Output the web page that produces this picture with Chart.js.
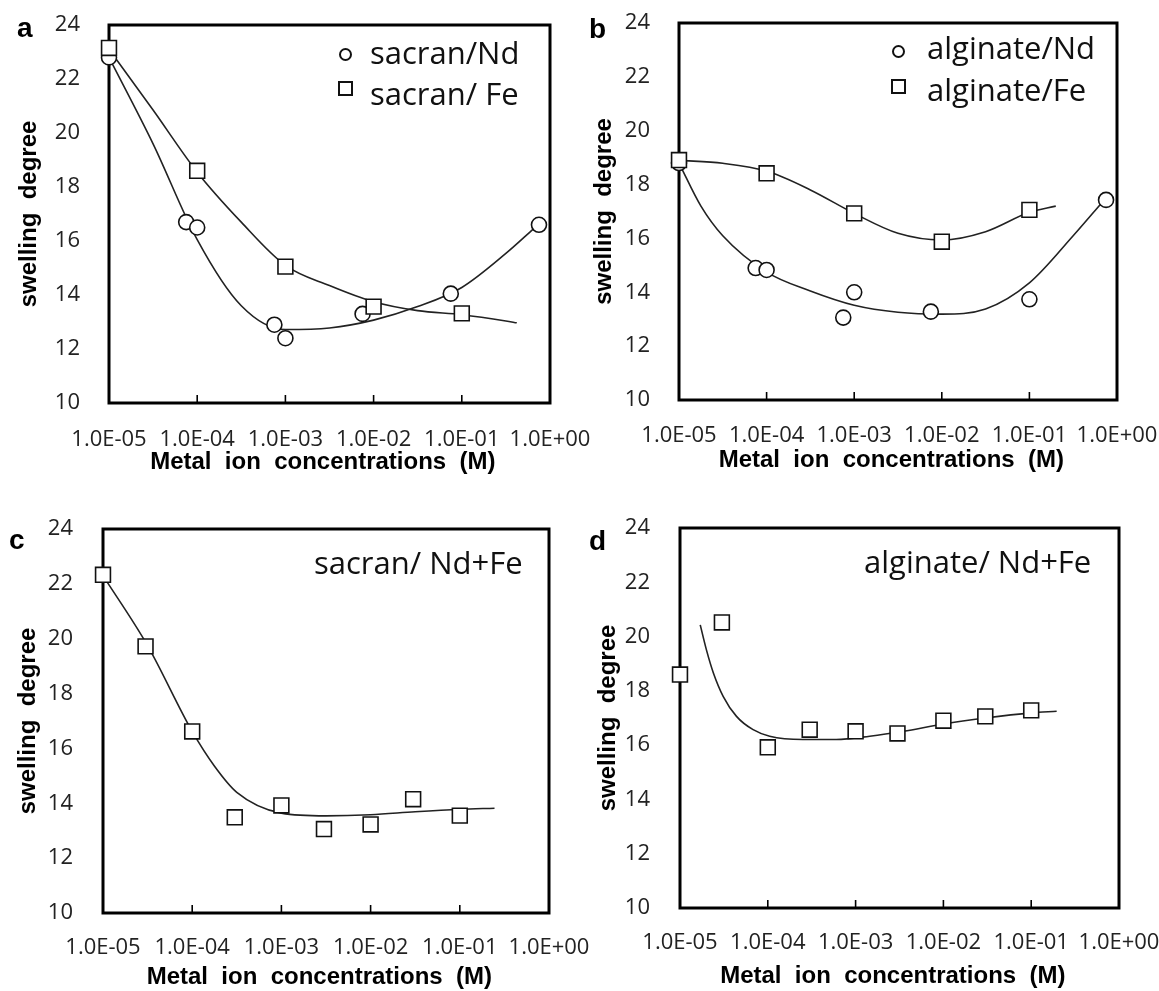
<!DOCTYPE html>
<html>
<head>
<meta charset="utf-8">
<script src="https://cdn.jsdelivr.net/npm/chart.js@4.4.0/dist/chart.umd.min.js"></script>
<style>
html, body { margin: 0; padding: 0; background: #fff; }
#page { position: relative; width: 1159px; height: 991px; overflow: hidden; }
canvas { position: absolute; left: 0; top: 0; }
.lbl { position: absolute; white-space: pre; line-height: 1; }
.panel { font: bold 28px "Liberation Sans", Arial, sans-serif; color: #000; }
.note { font: 31px "Open Sans", sans-serif; color: #111; }
.mk { position: absolute; box-sizing: border-box; border: 2.5px solid #111; background: #fff; }
</style>
</head>
<body>
<div id="page">
  <canvas id="chartA" width="1159" height="991"></canvas>
  <canvas id="chartB" width="1159" height="991"></canvas>
  <canvas id="chartC" width="1159" height="991"></canvas>
  <canvas id="chartD" width="1159" height="991"></canvas>

  <div class="lbl panel" style="left:17px;top:12px">a</div>
  <div class="lbl panel" style="left:589px;top:13px">b</div>
  <div class="lbl panel" style="left:9px;top:524px">c</div>
  <div class="lbl panel" style="left:589px;top:525px">d</div>

  <span class="mk" style="left:339px;top:48px;width:13px;height:13px;border-radius:50%"></span>
  <div class="lbl note" style="left:370px;top:31px">sacran/Nd</div>
  <span class="mk" style="left:338px;top:81px;width:15px;height:15px"></span>
  <div class="lbl note" style="left:370px;top:72px">sacran/ Fe</div>

  <span class="mk" style="left:892px;top:45px;width:13px;height:13px;border-radius:50%"></span>
  <div class="lbl note" style="left:927px;top:26px">alginate/Nd</div>
  <span class="mk" style="left:891px;top:79px;width:15px;height:15px"></span>
  <div class="lbl note" style="left:927px;top:68px">alginate/Fe</div>

  <div class="lbl note" style="left:314px;top:541px">sacran/ Nd+Fe</div>
  <div class="lbl note" style="left:864px;top:540px">alginate/ Nd+Fe</div>
</div>

<script>
// x axis: metal ion concentration (M), log scale
const xTicks = [1e-5, 1e-4, 1e-3, 1e-2, 1e-1, 1];
const xTickLabels = ['1.0E-05', '1.0E-04', '1.0E-03', '1.0E-02', '1.0E-01', '1.0E+00'];
const yMin = 10, yMax = 24, yStep = 2;

// a: sacran
const aNdX = [1e-5, 7.5e-5, 1e-4, 7.5e-4, 1e-3, 7.5e-3, 7.5e-2, 0.75];
const aNdY = [22.8, 16.7, 16.5, 12.9, 12.4, 13.3, 14.05, 16.6];
const aFeX = [1e-5, 1e-4, 1e-3, 1e-2, 1e-1];
const aFeY = [23.15, 18.6, 15.05, 13.57, 13.32];
const aNdFitX = [1e-5, 3.16e-5, 1e-4, 3.16e-4, 1e-3, 3.16e-3, 1e-2, 3.16e-2, 1e-1, 3.16e-1, 0.65];
const aNdFitY = [22.8, 19.6, 16.05, 13.6, 12.72, 12.78, 13.07, 13.57, 14.28, 15.54, 16.45];
const aFeFitX = [1e-5, 3.16e-5, 1e-4, 3.16e-4, 1e-3, 3.16e-3, 1e-2, 3.16e-2, 1e-1, 3.16e-1, 0.42];
const aFeFitY = [23.1, 20.85, 18.55, 16.7, 15.1, 14.35, 13.75, 13.42, 13.27, 13.04, 12.97];

// b: alginate
const bNdX = [1e-5, 7.5e-5, 1e-4, 7.5e-4, 1e-3, 7.5e-3, 1e-1, 0.75];
const bNdY = [18.8, 14.9, 14.83, 13.06, 14.0, 13.28, 13.74, 17.43];
const bFeX = [1e-5, 1e-4, 1e-3, 1e-2, 1e-1];
const bFeY = [18.91, 18.42, 16.93, 15.88, 17.06];
const bNdFitX = [1e-5, 1.78e-5, 3.16e-5, 1e-4, 3.16e-4, 1e-3, 3.16e-3, 1e-2, 3.16e-2, 1e-1, 3.16e-1, 0.66];
const bNdFitY = [18.8, 17.2, 16.1, 14.75, 14.05, 13.52, 13.26, 13.19, 13.38, 14.35, 16.1, 17.3];
const bFeFitX = [1e-5, 3.16e-5, 1e-4, 3.16e-4, 1e-3, 3.16e-3, 1e-2, 3.16e-2, 1e-1, 0.2];
const bFeFitY = [18.9, 18.79, 18.5, 17.8, 16.93, 16.19, 15.94, 16.25, 16.97, 17.2];

// c: sacran / Nd+Fe
const cX = [1e-5, 3e-5, 1e-4, 3e-4, 1e-3, 3e-3, 1e-2, 3e-2, 1e-1];
const cY = [22.33, 19.72, 16.62, 13.49, 13.92, 13.06, 13.23, 14.15, 13.55];
const cFitX = [1e-5, 3.16e-5, 1e-4, 1.78e-4, 3.16e-4, 1e-3, 3.16e-3, 1e-2, 3.16e-2, 1e-1, 0.245];
const cFitY = [22.3, 19.75, 16.62, 15.35, 14.4, 13.64, 13.54, 13.58, 13.69, 13.78, 13.82];

// d: alginate / Nd+Fe
const dX = [1e-5, 3e-5, 1e-4, 3e-4, 1e-3, 3e-3, 1e-2, 3e-2, 1e-1];
const dY = [18.6, 20.52, 15.92, 16.57, 16.51, 16.43, 16.9, 17.06, 17.28];
const dFitX = [1.7e-5, 2e-5, 2.4e-5, 3.1e-5, 4.4e-5, 6.8e-5, 1.05e-4, 2.5e-4, 6e-4, 1.45e-3, 3.5e-3, 1e-2, 3e-2, 1e-1, 0.195];
const dFitY = [20.43, 19.51, 18.66, 17.8, 17.06, 16.57, 16.33, 16.21, 16.21, 16.33, 16.51, 16.78, 17.0, 17.19, 17.25];

const pts = (xs, ys) => xs.map((x, i) => ({ x: x, y: ys[i] }));

function marks(xs, ys, style) {
    return {
        data: pts(xs, ys),
        showLine: false,
        pointStyle: style,
        pointRadius: style === 'rect' ? 10.5 : 7.5,
        pointBorderWidth: 1.6,
        pointBorderColor: '#111',
        pointBackgroundColor: '#fff',
        clip: false
    };
}

function fit(xs, ys) {
    return {
        data: pts(xs, ys),
        showLine: true,
        pointRadius: 0,
        borderColor: '#222',
        borderWidth: 1.6,
        cubicInterpolationMode: 'monotone',
        clip: false
    };
}

// box frame + small inner tick marks on the x axis
const framePlugin = {
    id: 'frame',
    beforeDatasetsDraw(chart) {
        const { ctx, chartArea: a } = chart;
        const xs = chart.scales.x;
        ctx.save();
        ctx.strokeStyle = '#000';
        ctx.lineWidth = 1.6;
        xTicks.slice(1, -1).forEach(v => {
            const px = xs.getPixelForValue(v);
            ctx.beginPath();
            ctx.moveTo(px, a.bottom);
            ctx.lineTo(px, a.bottom - 8);
            ctx.stroke();
        });
        ctx.lineWidth = 3;
        ctx.strokeRect(a.left, a.top, a.right - a.left, a.bottom - a.top);
        ctx.restore();
    }
};

const tickFont = { family: 'Open Sans', size: 22 };
const titleFont = { family: 'Liberation Sans', size: 24, weight: 'bold' };

function noPad(s) {
    s.paddingTop = 0; s.paddingBottom = 0; s.paddingLeft = 0; s.paddingRight = 0;
}

function makePanel(id, box, datasets) {
    const padLeft = box.ytc - 14.4;
    const padBottom = Math.max(0, 991 - (box.xtc + 14.4));
    return new Chart(document.getElementById(id), {
        type: 'scatter',
        data: { datasets: datasets },
        options: {
            responsive: false,
            animation: false,
            events: [],
            layout: {
                autoPadding: false,
                padding: { left: padLeft, top: box.T, right: 1159 - box.R, bottom: padBottom }
            },
            plugins: { legend: { display: false }, tooltip: { enabled: false } },
            scales: {
                x: {
                    type: 'logarithmic',
                    min: 1e-5,
                    max: 1,
                    grid: { display: false },
                    border: { display: false },
                    afterBuildTicks: s => { s.ticks = xTicks.map(v => ({ value: v })); },
                    afterFit: s => { s.height = 991 - padBottom - box.B; noPad(s); },
                    ticks: {
                        autoSkip: false,
                        maxRotation: 0,
                        padding: box.xtp,
                        color: '#222',
                        font: tickFont,
                        callback: (v, i) => xTickLabels[i]
                    },
                    title: {
                        display: true,
                        text: 'Metal  ion  concentrations  (M)  ',
                        color: '#000',
                        font: titleFont,
                        padding: { top: 0, bottom: 991 - padBottom - box.xtc - 14.4 }
                    }
                },
                y: {
                    min: yMin,
                    max: yMax,
                    grid: { display: false },
                    border: { display: false },
                    afterFit: s => { s.width = box.L - padLeft; noPad(s); },
                    ticks: {
                        stepSize: yStep,
                        padding: box.ytp,
                        color: '#222',
                        font: tickFont
                    },
                    title: {
                        display: true,
                        text: 'swelling  degree',
                        color: '#000',
                        font: titleFont,
                        padding: { top: 0, bottom: 0 }
                    }
                }
            }
        },
        plugins: [framePlugin]
    });
}

makePanel('chartA', { L: 109, R: 550, T: 25, B: 403, ytc: 29, ytp: 21, xtp: 16, xtc: 462 }, [
    marks(aFeX, aFeY, 'rect'),
    marks(aNdX, aNdY, 'circle'),
    fit(aNdFitX, aNdFitY),
    fit(aFeFitX, aFeFitY)
]);

makePanel('chartB', { L: 679, R: 1117, T: 23, B: 400, ytc: 604, ytp: 21, xtp: 15, xtc: 460 }, [
    marks(bFeX, bFeY, 'rect'),
    marks(bNdX, bNdY, 'circle'),
    fit(bNdFitX, bNdFitY),
    fit(bFeFitX, bFeFitY)
]);

makePanel('chartC', { L: 103, R: 549, T: 529, B: 913, ytc: 28.5, ytp: 22, xtp: 14, xtc: 977 }, [
    marks(cX, cY, 'rect'),
    fit(cFitX, cFitY)
]);

makePanel('chartD', { L: 680, R: 1119, T: 528, B: 908, ytc: 608, ytp: 22, xtp: 14, xtc: 976 }, [
    marks(dX, dY, 'rect'),
    fit(dFitX, dFitY)
]);
</script>
</body>
</html>
